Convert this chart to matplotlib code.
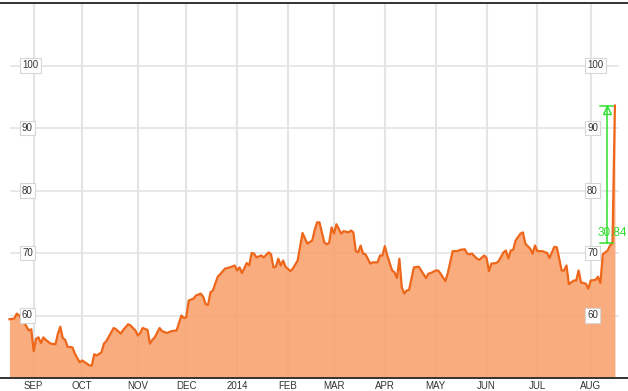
import matplotlib
matplotlib.use("Agg")
import matplotlib.pyplot as plt
import matplotlib.transforms as mtransforms

# trading-day index (0 = first session shown) and closing value
day_idx = [0, 2, 3, 4, 6, 8, 9, 10, 11, 12, 13, 14, 15, 17, 19, 20, 21, 22, 23, 24,
           26, 27, 29, 30, 32, 33, 34, 35, 36, 38, 39, 40, 42, 43, 44, 46, 47, 49, 50, 52,
           53, 54, 55, 57, 58, 59, 60, 62, 63, 65, 67, 69, 71, 72, 73, 74, 76, 77, 79, 80,
           81, 82, 83, 84, 86, 87, 89, 91, 93, 94, 95, 96, 98, 99, 100, 101, 102, 104, 105, 107,
           108, 109, 110, 111, 112, 113, 114, 116, 117, 119, 121, 123, 125, 126, 127, 128, 130, 131, 132, 133,
           134, 135, 137, 138, 140, 141, 142, 143, 144, 145, 146, 147, 149, 150, 152, 153, 154, 155, 156, 158,
           159, 160, 161, 162, 163, 164, 165, 167, 169, 170, 172, 173, 174, 176, 177, 178, 180, 181, 183, 185,
           186, 188, 189, 190, 191, 193, 194, 196, 197, 198, 199, 201, 202, 204, 205, 206, 207, 208, 209, 211,
           212, 213, 215, 216, 217, 218, 220, 222, 223, 225, 226, 227, 228, 229, 230, 231, 233, 234, 235, 236,
           238, 239, 240, 242, 243, 244, 245, 247, 248, 249, 250]
price = [59.4, 59.5, 60.3, 60.0, 58.9, 57.6, 57.8, 54.3, 56.3, 56.5, 55.6, 56.5, 56.1, 55.5, 55.4, 57.1, 58.2, 56.4, 56.1, 55.0,
         54.9, 53.9, 52.5, 52.8, 52.3, 52.0, 52.0, 53.8, 53.6, 54.1, 55.5, 55.9, 57.3, 58.0, 57.8, 57.1, 57.7, 58.6, 58.4, 57.6,
         56.8, 57.2, 58.0, 57.7, 55.5, 56.1, 56.5, 58.0, 57.5, 57.2, 57.5, 57.6, 60.0, 59.6, 59.7, 62.4, 62.7, 63.2, 63.5, 63.0,
         61.8, 61.7, 63.7, 64.0, 66.2, 66.6, 67.5, 67.7, 68.0, 67.2, 67.7, 66.8, 68.4, 68.0, 70.0, 69.9, 69.3, 69.6, 69.3, 70.1,
         69.8, 67.7, 67.8, 69.1, 68.0, 68.8, 67.8, 67.1, 67.5, 68.8, 73.2, 71.5, 72.0, 73.6, 74.9, 74.9, 71.7, 71.4, 71.6, 74.1,
         73.1, 74.6, 73.1, 73.5, 73.3, 73.6, 73.3, 70.3, 70.1, 71.2, 69.9, 69.8, 68.3, 68.5, 68.5, 69.6, 69.6, 71.1, 69.6, 67.2,
         66.9, 66.0, 69.1, 64.5, 63.5, 64.0, 64.1, 67.7, 67.8, 67.2, 66.0, 66.7, 66.8, 67.2, 67.2, 66.7, 65.5, 66.8, 70.3, 70.3,
         70.5, 70.6, 69.9, 69.8, 69.9, 69.1, 68.9, 69.6, 69.2, 67.1, 68.3, 68.4, 68.7, 70.1, 70.4, 69.1, 70.4, 70.5, 72.0, 73.1,
         73.3, 71.5, 70.7, 69.9, 71.2, 70.3, 70.3, 70.0, 69.2, 71.0, 70.9, 69.1, 67.2, 67.2, 68.0, 65.0, 65.6, 65.6, 67.2, 65.3,
         65.1, 64.3, 65.6, 65.7, 66.2, 65.2, 69.8, 70.4, 71.2, 71.6, 93.6]

month_idx = [10, 30, 53, 73, 94, 115, 134, 155, 176, 197, 218, 240]
month_labels = ["SEP", "OCT", "NOV", "DEC", "2014", "FEB", "MAR", "APR", "MAY", "JUN", "JUL", "AUG"]
y_ticks = [60, 70, 80, 90, 100]
change_label = "30.84"
change_from = 71.6
change_to = 93.6
change_at = 246.6

LINE = "#EE661A"
FILL = "#F9A36F"
GRID = "#E4E4E4"
TXT = "#333333"
GREEN = "#2EE02E"
FONT = ["Liberation Sans", "DejaVu Sans"]

fig = plt.figure(figsize=(6.28, 3.91), dpi=100)
ax = fig.add_axes([0.0, 13 / 391, 1.0, 375 / 391])
ax.set_xlim(-3.91, 255.4)
ax.set_ylim(50, 110)

# grid
for m in month_idx:
    ax.axvline(m, color=GRID, lw=1.5, zorder=1)
for yv in y_ticks:
    ax.axhline(yv, xmin=11 / 628, xmax=618 / 628, color=GRID, lw=1.2, zorder=1)

ax.fill_between(day_idx, 50, price, color=FILL, alpha=0.9, lw=0, zorder=2)
ax.plot(day_idx, price, color=LINE, lw=1.6, zorder=3, solid_joinstyle="round")

# y labels inside the plot, both sides
trans = mtransforms.blended_transform_factory(ax.transAxes, ax.transData)
for yv in y_ticks:
    for xf in (22 / 628, 587 / 628):
        ax.text(xf, yv, str(yv), transform=trans, ha="left", va="center",
                fontsize=7, color=TXT, family=FONT, zorder=5,
                bbox=dict(boxstyle="square,pad=0.25", fc="white", ec="#D6D6D6", lw=0.8))

# change annotation
ax.plot([change_at, change_at], [change_from, change_to], color=GREEN, lw=1.1, zorder=4)
ax.plot([change_at - 2.7, change_at + 2.5], [change_to, change_to], color=GREEN, lw=1.1, zorder=4)
ax.plot([change_at - 2.7, change_at + 2.5], [change_from, change_from], color=GREEN, lw=1.1, zorder=4)
ax.plot([change_at], [change_to - 0.75], marker="^", ms=6, mfc="none", mec=GREEN, mew=1.0, zorder=4)
ax.text(0.998, change_from + 1.6, change_label, color=GREEN, fontsize=8.5, transform=trans,
        family=FONT, ha="right", va="center", zorder=6)

ax.set_xticks(month_idx)
ax.set_xticklabels(month_labels, family=FONT, fontsize=7, color=TXT)
ax.set_yticks([])
ax.tick_params(axis="x", length=0, pad=2.5)
for s in ("left", "right"):
    ax.spines[s].set_visible(False)
for s in ("top", "bottom"):
    ax.spines[s].set_color(TXT)
    ax.spines[s].set_linewidth(1.4)
ax.set_facecolor("white")

fig.savefig("out.png", dpi=100)
